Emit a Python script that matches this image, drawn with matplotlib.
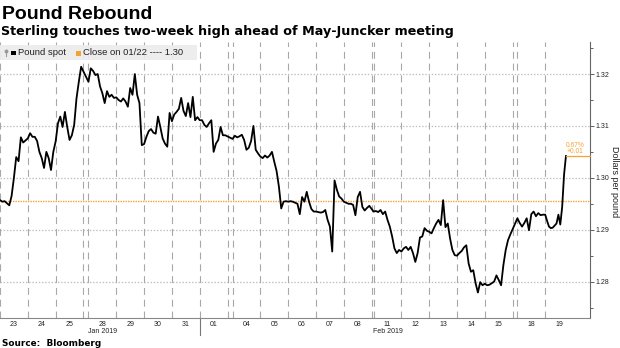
import numpy as np
import matplotlib
matplotlib.use("Agg")
import matplotlib.pyplot as plt
from matplotlib.patches import Rectangle
from matplotlib.lines import Line2D

plt.rcParams['font.family'] = ['Liberation Sans', 'DejaVu Sans']
plt.rcParams['lines.scale_dashes'] = False

# trading days shown on the axis
day_labels = ['23', '24', '25', '28', '29', '30', '31', '01', '04', '05',
              '06', '07', '08', '11', '12', '13', '14', '15', '18', '19']
# weekend gap after these days (in day units)
gap_after = {'25': 0.18, '01': 0.18, '08': 0.07, '15': 0.17}
month_labels = ['Jan 2019', 'Feb 2019']
month_label_days = ['28', '11']
month_start_day = '01'

prev_close = 1.2955
change_pct = '0.67%'
change_abs = '+0.01'

# intraday GBP/USD readings, one list per day
spot_by_day = [
    [1.2957, 1.2954, 1.2955, 1.2951, 1.2947, 1.2965, 1.3000, 1.3040, 1.3032, 1.3078, 1.3068, 1.3072],
    [1.3076, 1.3086, 1.3079, 1.3079, 1.3071, 1.3050, 1.3038, 1.3019, 1.3050, 1.3038, 1.3015, 1.3050],
    [1.3070, 1.3105, 1.3118, 1.3098, 1.3127, 1.3098, 1.3073, 1.3082, 1.3102, 1.3153, 1.3185, 1.3214],
    [1.3185, 1.3211, 1.3206, 1.3198, 1.3200, 1.3176, 1.3163, 1.3144, 1.3167, 1.3156, 1.3160, 1.3154],
    [1.3155, 1.3150, 1.3147, 1.3153, 1.3147, 1.3137, 1.3173, 1.3160, 1.3200, 1.3160, 1.3144, 1.3063],
    [1.3065, 1.3079, 1.3090, 1.3094, 1.3087, 1.3085, 1.3118, 1.3098, 1.3076, 1.3066, 1.3060, 1.3125],
    [1.3109, 1.3122, 1.3127, 1.3133, 1.3154, 1.3129, 1.3119, 1.3144, 1.3117, 1.3156, 1.3111, 1.3117],
    [1.3111, 1.3111, 1.3102, 1.3098, 1.3105, 1.3111, 1.3050, 1.3066, 1.3073, 1.3098, 1.3082, 1.3082],
    [1.3075, 1.3081, 1.3078, 1.3080, 1.3083, 1.3073, 1.3054, 1.3058, 1.3071, 1.3100, 1.3054, 1.3047],
    [1.3041, 1.3038, 1.3043, 1.3039, 1.3043, 1.3050, 1.3031, 1.3013, 1.2983, 1.2941, 1.2954, 1.2955],
    [1.2954, 1.2955, 1.2954, 1.2952, 1.2950, 1.2930, 1.2963, 1.2954, 1.2973, 1.2954, 1.2940, 1.2935],
    [1.2935, 1.2934, 1.2933, 1.2934, 1.2938, 1.2919, 1.2906, 1.2858, 1.2995, 1.2977, 1.2964, 1.2960],
    [1.2954, 1.2952, 1.2950, 1.2950, 1.2948, 1.2928, 1.2963, 1.2973, 1.2944, 1.2937, 1.2942, 1.2946],
    [1.2935, 1.2936, 1.2934, 1.2938, 1.2930, 1.2935, 1.2919, 1.2906, 1.2887, 1.2864, 1.2855, 1.2861],
    [1.2858, 1.2864, 1.2867, 1.2861, 1.2867, 1.2855, 1.2838, 1.2855, 1.2885, 1.2887, 1.2903, 1.2898],
    [1.2896, 1.2893, 1.2903, 1.2912, 1.2919, 1.2909, 1.2957, 1.2905, 1.2912, 1.2883, 1.2861, 1.2851],
    [1.2850, 1.2855, 1.2859, 1.2866, 1.2870, 1.2835, 1.2819, 1.2822, 1.2797, 1.2779, 1.2799, 1.2793],
    [1.2796, 1.2793, 1.2794, 1.2797, 1.2800, 1.2812, 1.2803, 1.2793, 1.2832, 1.2861, 1.2880, 1.2891],
    [1.2922, 1.2913, 1.2906, 1.2913, 1.2922, 1.2899, 1.2930, 1.2935, 1.2926, 1.2932, 1.2928, 1.2929],
    [1.2929, 1.2917, 1.2906, 1.2903, 1.2904, 1.2908, 1.2912, 1.2929, 1.2910, 1.2944, 1.3006, 1.3042],
]
last_day_frac = 0.745

yticks = [1.28, 1.29, 1.30, 1.31, 1.32]
ytick_labels = ['1.28', '1.29', '1.30', '1.31', '1.32']

ORANGE = '#f4a236'
W, H = 620, 348


def fx(px):
    return px / W


def fy(py):
    return 1 - py / H


# day start positions on a compressed time axis
starts = []
pos = 0.0
for d in day_labels:
    starts.append(pos)
    pos += 1 + gap_after.get(d, 0)

xs, ys = [], []
for i, vals in enumerate(spot_by_day):
    n = len(vals)
    if i == len(spot_by_day) - 1:
        t = np.linspace(0, last_day_frac, n)
    else:
        t = np.arange(n) / n
    xs.extend(starts[i] + t)
    ys.extend(vals)

fig = plt.figure(figsize=(6.2, 3.48), dpi=100)
ax = fig.add_axes([0, fy(318), fx(590), (318 - 42) / H])
x_right = 21.21
ax.set_xlim(0, x_right)
ax.set_ylim(1.27299, 1.32617)

# day boundaries
for i, d in enumerate(day_labels):
    ax.axvline(starts[i], color='#a8a8a8', lw=0.8, ls=(0, (5, 3.5)), zorder=1)
    if d in gap_after:
        ax.axvline(starts[i] + 1, color='#a8a8a8', lw=0.8, ls=(0, (5, 3.5)), zorder=1)

# month separator below the axis
m_idx = day_labels.index(month_start_day)
ax.plot([starts[m_idx], starts[m_idx]], [0, -(335 - 318) / 276], color='#777777',
        lw=0.8, transform=ax.get_xaxis_transform(), clip_on=False)

ax.yaxis.grid(True, color='#bdbdbd', lw=0.9, ls=(0, (1, 1.3)))
ax.set_axisbelow(True)

ax.axhline(prev_close, color=ORANGE, lw=1.0, ls=(0, (1, 0.8)), zorder=2)
ax.plot(xs, ys, color='black', lw=1.3, zorder=3)

# change annotation
ax.plot([xs[-1], x_right], [ys[-1], ys[-1]], color=ORANGE, lw=0.9, clip_on=False, zorder=3)
ax.text(575 / 27.82, 1.30632, change_pct, color=ORANGE, fontsize=4.8, ha='center', va='center')
ax.text(575 / 27.82, 1.30511, change_abs, color=ORANGE, fontsize=4.8, ha='center', va='center')

for s in ['left', 'top']:
    ax.spines[s].set_visible(False)
ax.spines['bottom'].set_color('#888888')
ax.spines['bottom'].set_linewidth(0.8)
ax.spines['right'].set_color('#666666')
ax.spines['right'].set_linewidth(0.8)

ax.yaxis.tick_right()
ax.set_yticks(yticks)
ax.set_yticklabels(ytick_labels)
ax.set_yticks(np.arange(1.275, 1.3251, 0.01), minor=True)
ax.tick_params(axis='y', which='major', length=3, width=0.6, color='#444444',
               pad=1, labelsize=5, labelcolor='#222222')
ax.tick_params(axis='y', which='minor', length=2, width=0.6, color='#444444')

ax.set_xticks([s + 0.5 for s in starts])
ax.set_xticklabels(day_labels)
ax.tick_params(axis='x', length=0, pad=2.5, labelsize=5, labelcolor='#222222')

for lab, d in zip(month_labels, month_label_days):
    i = day_labels.index(d)
    ax.text(starts[i] + 0.5, -(331.5 - 318) / 276, lab, fontsize=5, color='#222222',
            ha='center', va='center', transform=ax.get_xaxis_transform())

fig.text(fx(615), fy(181.5), 'Dollars per pound', rotation=270, fontsize=6.5,
         color='#222222', ha='center', va='center')

# titles and source
fig.text(fx(1.5), fy(19), 'Pound Rebound', fontsize=14, fontweight='bold',
         family='Liberation Sans', va='baseline', ha='left')
fig.text(fx(1), fy(35), 'Sterling touches two-week high ahead of May-Juncker meeting',
         fontsize=9.2, fontweight='bold', family='DejaVu Sans', va='baseline', ha='left')
fig.text(fx(2), fy(345.7), 'Source:  Bloomberg', fontsize=6.4, fontweight='bold',
         family='DejaVu Sans', va='baseline', ha='left')

# legend strip
fig.add_artist(Rectangle((0, fy(60)), fx(197), 15 / H, transform=fig.transFigure,
                         facecolor='#ececec', edgecolor='none', alpha=0.92, zorder=5))
fig.add_artist(Line2D([fx(6), fx(6)], [fy(51), fy(56)], color='#999999', lw=0.8, zorder=6))
fig.add_artist(Line2D([fx(6)], [fy(50.5)], marker='o', ms=1.8, color='#999999', zorder=6))
fig.add_artist(Rectangle((fx(11), fy(55.3)), 4.5 / W, 4.5 / H, transform=fig.transFigure,
                         facecolor='black', edgecolor='none', zorder=6))
fig.text(fx(18), fy(52.8), 'Pound spot', fontsize=6.8, color='#222222', va='center', zorder=6)
fig.add_artist(Rectangle((fx(76), fy(55.5)), 5 / W, 5 / H, transform=fig.transFigure,
                         facecolor=ORANGE, edgecolor='none', zorder=6))
fig.text(fx(83), fy(52.8), 'Close on 01/22 ---- 1.30', fontsize=6.8, color='#222222',
         va='center', zorder=6)

fig.savefig('out.png', dpi=100)
